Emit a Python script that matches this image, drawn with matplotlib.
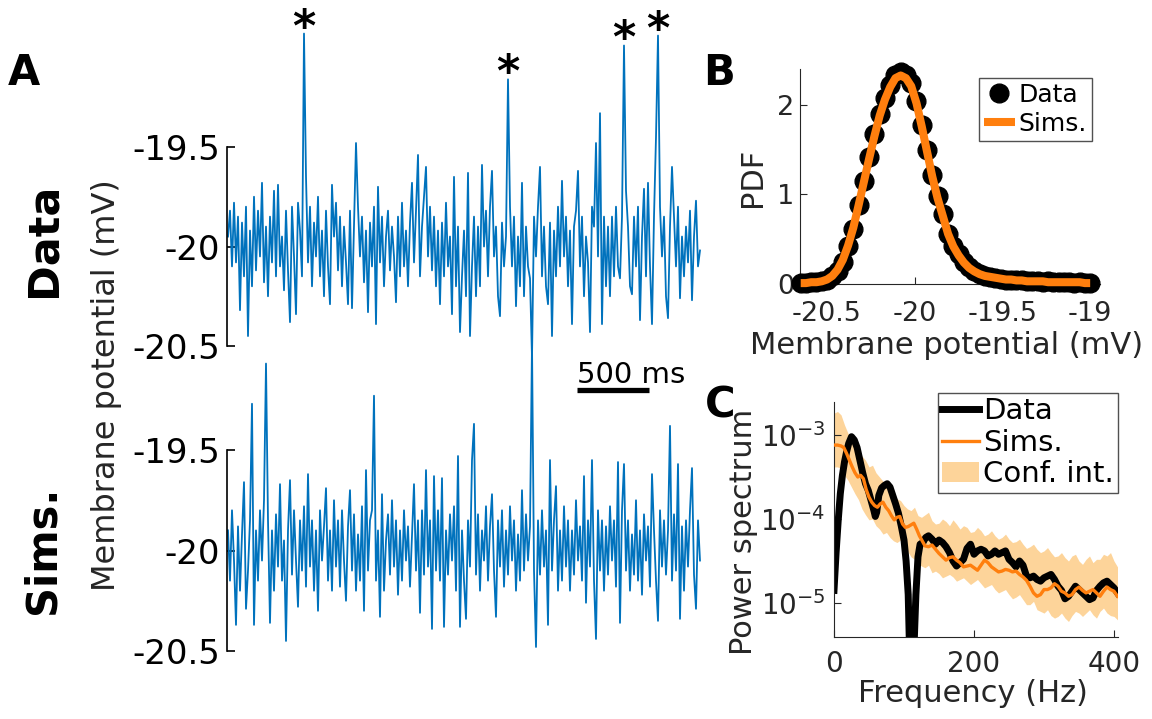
import numpy as np
import matplotlib
matplotlib.use("Agg")
import matplotlib.pyplot as plt

# ---------------- data ----------------
# Panel A: membrane potential traces (offset from -20 mV, in 0.01 mV)
data_trace_offsets = [
    5, 18, -10, 22, -8, 15, -32, 12, -15, 20,
    -45, 8, -20, 25, -12, 18, -5, 32, -18, 10,
    -25, 15, -8, 28, -15, 31, -10, 5, -22, 18,
    -12, -38, 20, -5, -34, 22, 8, -15, 107, 35,
    -8, 20, -20, 12, -5, 25, -15, 8, -25, 18,
    -10, -29, 31, 5, 22, -12, 15, -20, 10, -8,
    -29, 18, -31, 10, 52, 20, -5, 15, -18, 8,
    -33, 12, -10, 20, -39, 30, -8, 15, -20, 5,
    18, -12, 10, -5, -28, 15, -15, 22, -10, 8,
    -20, 12, 32, -8, 18, 46, -15, 10, 25, 40,
    -5, 20, -12, 15, -20, 8, -29, 12, -15, 22,
    -10, 5, -34, 35, -20, 10, -43, -15, 8, -25,
    37, -45, -10, 15, -25, 10, -20, 41, 0, 18,
    -15, 20, 38, -5, 10, -25, -35, 12, -10, 5,
    84, 20, -10, 15, -30, 5, -20, 32, -25, 10,
    -10, -16, -56, 15, -5, 20, 40, -15, 10, -20,
    -29, 12, -45, 8, -15, 20, -10, 33, -5, 15,
    -20, 8, -39, 10, 18, 38, -10, 15, -25, 5,
    -8, -43, 20, 10, 52, -5, 67, -39, 15, -20,
    10, -25, 15, -15, 20, -10, -16, 15, 101, 28,
    10, -20, -24, 15, -10, 20, -37, 5, 29, -15,
    32, -10, -39, 15, 55, 106, 20, -5, 15, -25,
    -36, 10, 40, 15, -10, 20, -26, 5, -15, 10,
    -8, 18, -27, 5, 23, -10, -2,
]
sims_trace_offsets = [
    10, -15, 20, -5, -37, 12, -20, 8, 34, -29,
    -10, 15, 73, -37, 10, -15, 20, -5, 25, 93,
    15, -36, 10, -20, 18, -8, 33, -15, 5, -45,
    10, 35, -12, 20, -5, -28, 15, -10, 22, -18,
    38, -8, 15, -20, 10, -30, 20, -5, 12, 31,
    -15, 10, -20, 25, -8, 15, -18, 20, -5, -25,
    12, 30, -10, 18, -20, 8, -15, 22, -30, 40,
    -10, 15, 20, 77, -15, 10, -33, 28, -20, 5,
    18, -12, 25, -8, 15, -22, 10, -15, 20, -5,
    12, -18, 8, 33, -10, 15, -31, 20, -12, 40,
    -8, 15, -39, 37, -10, 20, -15, 36, -38, 10,
    -12, 18, -5, 22, -20, 47, -38, 10, -15, -34,
    15, -8, 45, 63, -12, 18, -20, 10, -5, 22,
    -15, 12, 28, -10, -33, 15, -8, 20, -18, 10,
    -12, 22, -5, 15, -20, 8, -15, 30, -10, 18,
    -5, 12, 103, -10, -48, 15, -12, 20, -8, 10,
    -37, 45, -10, 15, 32, -20, 10, -15, 22, -8,
    15, -20, 10, -12, 25, -5, 12, -15, 37, -26,
    15, -8, 45, -15, -44, 20, -10, 15, -20, 12,
    -12, 22, -5, 15, -18, 44, -36, 20, 43, -10,
    15, -20, 8, -12, 25, -15, 10, -22, 18, -5,
    12, -18, 38, 10, -15, -35, 20, -8, 15, -12,
    10, 62, -15, 18, -10, 43, -34, 12, -20, 15,
    -8, 20, 41, -12, -29, 15, -5,
]
sample_ms = 13.89
marked_spikes = [38, 140, 198, 215]
scale_bar_ms = 500

# Panel B: membrane potential PDF
pdf_v = [-20.65, -20.62, -20.59, -20.56, -20.53, -20.50, -20.47, -20.44, -20.41, -20.38,
         -20.35, -20.32, -20.29, -20.26, -20.23, -20.20, -20.17, -20.14, -20.11, -20.08,
         -20.05, -20.02, -19.99, -19.96, -19.93, -19.90, -19.87, -19.84, -19.81, -19.78,
         -19.75, -19.72, -19.69, -19.66, -19.63, -19.60, -19.57, -19.54, -19.51, -19.48,
         -19.45, -19.42, -19.39, -19.36, -19.33, -19.30, -19.27, -19.24, -19.21, -19.18,
         -19.15, -19.12, -19.09, -19.06, -19.03, -19.00]
pdf_data = [0.01, 0.01, 0.02, 0.02, 0.03, 0.05, 0.09, 0.15, 0.25, 0.42,
            0.62, 0.88, 1.15, 1.42, 1.68, 1.90, 2.08, 2.22, 2.33, 2.37,
            2.33, 2.25, 2.04, 1.78, 1.50, 1.22, 0.98, 0.78, 0.56, 0.42,
            0.33, 0.25, 0.19, 0.14, 0.11, 0.09, 0.08, 0.07, 0.06, 0.05,
            0.05, 0.04, 0.04, 0.03, 0.03, 0.03, 0.02, 0.03, 0.02, 0.02,
            0.02, 0.02, 0.01, 0.02, 0.01, 0.01]
pdf_sims = [0.01, 0.01, 0.02, 0.02, 0.03, 0.05, 0.09, 0.16, 0.27, 0.43,
            0.63, 0.88, 1.14, 1.40, 1.65, 1.88, 2.06, 2.20, 2.30, 2.33,
            2.30, 2.21, 2.02, 1.76, 1.48, 1.20, 0.96, 0.76, 0.56, 0.42,
            0.32, 0.24, 0.18, 0.14, 0.11, 0.09, 0.08, 0.07, 0.06, 0.05,
            0.05, 0.04, 0.04, 0.03, 0.03, 0.03, 0.03, 0.02, 0.02, 0.02,
            0.02, 0.02, 0.02, 0.02, 0.01, 0.01]

# Panel C: power spectra (log10 of power)
spec_f_data = [0, 3, 6, 9, 12, 15, 18, 21, 25, 29, 33, 37, 41, 45, 49, 53, 57, 59, 61, 64,
               68, 72, 76, 80, 84, 88, 92, 96, 100, 103, 106, 108, 111, 114, 117, 120, 123,
               127, 131, 135, 140, 145, 150, 155, 160, 165, 170, 175, 180, 185, 190, 195,
               200, 205, 210, 215, 220, 225, 230, 235, 240, 245, 250, 255, 260, 265, 270,
               275, 280, 285, 290, 295, 300, 305, 310, 315, 320, 325, 330, 335, 340, 345,
               350, 355, 360, 365, 370, 375, 380, 385, 390, 395, 400, 405]
spec_data_log = [-4.85, -4.40, -4.02, -3.70, -3.48, -3.32, -3.20, -3.10, -3.02, -3.06,
                 -3.15, -3.30, -3.45, -3.58, -3.66, -3.78, -3.90, -3.97, -3.92, -3.72,
                 -3.63, -3.60, -3.58, -3.62, -3.72, -3.82, -3.93, -4.08, -4.25, -4.50,
                 -4.90, -5.60, -5.60, -5.60, -4.90, -4.45, -4.30, -4.28, -4.22, -4.20,
                 -4.24, -4.30, -4.25, -4.28, -4.33, -4.40, -4.50, -4.56, -4.52, -4.48,
                 -4.35, -4.30, -4.42, -4.38, -4.36, -4.38, -4.44, -4.42, -4.38, -4.42,
                 -4.40, -4.38, -4.48, -4.52, -4.57, -4.50, -4.55, -4.68, -4.70, -4.68,
                 -4.72, -4.74, -4.70, -4.68, -4.66, -4.72, -4.80, -4.85, -4.95, -4.92,
                 -4.86, -4.80, -4.84, -4.88, -4.92, -4.96, -4.94, -4.85, -4.80, -4.76,
                 -4.74, -4.78, -4.82, -4.88]
spec_f_sims = [0, 5, 10, 14, 18, 22, 26, 30, 34, 38, 42, 46, 50, 54, 58, 62, 66, 70, 74, 78,
               82, 86, 90, 94, 98, 102, 106, 110, 114, 118, 122, 126, 130, 135, 140, 145, 150,
               155, 160, 165, 170, 175, 180, 185, 190, 195, 200, 205, 210, 215, 220, 225, 230,
               235, 240, 245, 250, 255, 260, 265, 270, 275, 280, 285, 290, 295, 300, 305, 310,
               315, 320, 325, 330, 335, 340, 345, 350, 355, 360, 365, 370, 375, 380, 385, 390,
               395, 400, 405]
spec_sims_log = [-3.12, -3.12, -3.13, -3.15, -3.22, -3.30, -3.38, -3.45, -3.50, -3.48,
                 -3.52, -3.65, -3.74, -3.80, -3.84, -3.86, -3.82, -3.80, -3.86, -3.90,
                 -3.96, -4.01, -3.98, -3.97, -4.06, -4.10, -4.09, -4.07, -4.05, -4.12,
                 -4.20, -4.26, -4.32, -4.33, -4.31, -4.36, -4.41, -4.45, -4.49, -4.46,
                 -4.45, -4.49, -4.52, -4.57, -4.56, -4.55, -4.58, -4.61, -4.55, -4.49,
                 -4.52, -4.57, -4.60, -4.63, -4.62, -4.60, -4.61, -4.63, -4.62, -4.66,
                 -4.69, -4.73, -4.80, -4.88, -4.92, -4.90, -4.84, -4.84, -4.82, -4.77,
                 -4.80, -4.86, -4.88, -4.92, -4.90, -4.84, -4.81, -4.85, -4.88, -4.86,
                 -4.84, -4.88, -4.92, -4.86, -4.81, -4.84, -4.86, -4.92]
ci_f = [0, 5, 10, 15, 20, 25, 30, 35, 40, 45, 50, 55, 60, 65, 70, 75, 80, 85, 90, 95, 100,
        105, 110, 115, 120, 125, 130, 135, 140, 145, 150, 155, 160, 165, 170, 175, 180, 185,
        190, 195, 200, 205, 210, 215, 220, 225, 230, 235, 240, 245, 250, 255, 260, 265, 270,
        275, 280, 285, 290, 295, 300, 305, 310, 315, 320, 325, 330, 335, 340, 345, 350, 355,
        360, 365, 370, 375, 380, 385, 390, 395, 400, 405]
ci_high_log = [-2.74, -2.72, -2.76, -2.88, -2.98, -3.02, -3.10, -3.20, -3.25, -3.30, -3.38,
               -3.36, -3.45, -3.50, -3.55, -3.58, -3.66, -3.70, -3.76, -3.78, -3.84, -3.88,
               -3.90, -3.86, -3.96, -3.98, -3.95, -3.92, -4.02, -4.06, -4.05, -4.00, -4.03,
               -4.08, -4.01, -4.06, -4.12, -4.08, -4.10, -4.16, -4.15, -4.10, -4.14, -4.20,
               -4.18, -4.14, -4.20, -4.24, -4.22, -4.18, -4.24, -4.28, -4.27, -4.24, -4.30,
               -4.35, -4.33, -4.30, -4.36, -4.40, -4.38, -4.34, -4.40, -4.45, -4.44, -4.40,
               -4.46, -4.50, -4.44, -4.42, -4.50, -4.54, -4.48, -4.44, -4.52, -4.48, -4.48,
               -4.42, -4.44, -4.40, -4.50, -4.57]
ci_low_log = [-3.38, -3.38, -3.40, -3.48, -3.54, -3.62, -3.70, -3.77, -3.88, -3.95, -4.01,
              -4.00, -4.08, -4.12, -4.18, -4.16, -4.22, -4.26, -4.28, -4.25, -4.33, -4.38,
              -4.45, -4.48, -4.53, -4.56, -4.58, -4.55, -4.64, -4.62, -4.65, -4.70, -4.68,
              -4.66, -4.69, -4.74, -4.72, -4.70, -4.74, -4.78, -4.75, -4.72, -4.77, -4.82,
              -4.80, -4.78, -4.84, -4.88, -4.86, -4.84, -4.90, -4.95, -4.93, -4.90, -4.96,
              -5.02, -5.02, -4.98, -5.08, -5.10, -5.12, -5.08, -5.15, -5.18, -5.16, -5.12,
              -5.18, -5.22, -5.15, -5.10, -5.12, -5.16, -5.12, -5.08, -5.14, -5.18, -5.10,
              -5.06, -5.12, -5.15, -5.16, -5.20]

# ---------------- style ----------------
BLUE = "#0072BD"
ORANGE = "#FF7F0E"
BAND = "#FDD49A"
AX = "#262626"
W, H = 1152, 719
plt.rcParams["font.family"] = ["DejaVu Sans"]

fig = plt.figure(figsize=(W / 100, H / 100), dpi=100)


def box(left, top, right, bottom):
    return [left / W, 1 - bottom / H, (right - left) / W, (bottom - top) / H]


def ftext(x, y, s, **kw):
    fig.text(x / W, 1 - y / H, s, **kw)


ms_per_px = sample_ms / 2.0

# ---------------- Panel A ----------------
data_trace = -20 + np.array(data_trace_offsets) / 100.0
sims_trace = -20 + np.array(sims_trace_offsets) / 100.0
t = np.arange(len(data_trace)) * sample_ms


def trace_axes(top_px, bottom_px, y_hi_px, y_lo_px, trace):
    ax = fig.add_axes(box(227, top_px, 702, bottom_px))
    ax.patch.set_alpha(0)
    ppm = (y_lo_px - y_hi_px) / 1.0  # pixels per mV
    ax.plot(t, trace, color=BLUE, lw=1.3, clip_on=False)
    ax.set_xlim(-ms_per_px, (702 - 228) * ms_per_px)
    ax.set_ylim(-20.5 - (bottom_px - y_lo_px) / ppm, -19.5 + (y_hi_px - top_px) / ppm)
    for s in ["top", "right", "bottom"]:
        ax.spines[s].set_visible(False)
    ax.spines["left"].set_bounds(-20.5, -19.5)
    ax.spines["left"].set_color("k")
    ax.spines["left"].set_linewidth(1.2)
    ax.set_xticks([])
    ax.set_yticks([-20.5, -20, -19.5])
    ax.set_yticklabels(["-20.5", "-20", "-19.5"])
    ax.tick_params(axis="y", direction="in", length=6, width=1.2, pad=5,
                   labelsize=24.5, colors="k")
    return ax


axA1 = trace_axes(0, 400, 147, 346, data_trace)
axA2 = trace_axes(330, 719, 450, 651, sims_trace)

for i in marked_spikes:
    axA1.annotate("*", xy=(t[i], data_trace[i]), xytext=(0, -5),
                  textcoords="offset points", ha="center", va="baseline",
                  fontsize=32, fontweight="bold", color="k", annotation_clip=False)

# scale bar
ppm1 = 346 - 147
bar_y = -20.5 - (390 - 346) / ppm1
bar_x0 = (577 - 228) * ms_per_px
axA1.plot([bar_x0, bar_x0 + scale_bar_ms], [bar_y, bar_y], color="k", lw=3.8,
          solid_capstyle="butt", clip_on=False)
axA1.text(bar_x0, -20.5 - (383 - 346) / ppm1, "500 ms", ha="left", va="baseline",
          fontsize=21, color="k", clip_on=False)

ftext(8, 73, "A", fontsize=30, fontweight="bold", ha="left", va="center")
ftext(43, 240, "Data", fontsize=31, fontweight="bold", rotation=90, ha="center", va="center")
ftext(43, 550, "Sims.", fontsize=30, fontweight="bold", rotation=90, ha="center", va="center")
ftext(107, 385, "Membrane potential (mV)", fontsize=23, rotation=90, ha="center",
      va="center", color=AX)

# ---------------- Panel B ----------------
axB = fig.add_axes(box(800, 69.2, 1100, 284))
axB.plot(pdf_v, pdf_data, "o", color="k", ms=13.5, clip_on=False, label="Data", zorder=3)
axB.plot(pdf_v, pdf_sims, "-", color=ORANGE, lw=5.8, clip_on=False, label="Sims.",
         solid_capstyle="butt", zorder=4)
axB.set_xlim(-20.654, -18.944)
axB.set_ylim(0, 2.4)
for s in ["top", "right"]:
    axB.spines[s].set_visible(False)
for s in ["left", "bottom"]:
    axB.spines[s].set_color(AX)
axB.set_xticks([-20.5, -20, -19.5, -19])
axB.set_xticklabels(["-20.5", "-20", "-19.5", "-19"])
axB.set_yticks([0, 1, 2])
axB.tick_params(direction="in", length=5, labelsize=19.5, colors=AX)
axB.tick_params(axis="x", pad=12)
axB.tick_params(axis="y", pad=4)
axB.set_xlabel("Membrane potential (mV)", fontsize=22, color=AX)
axB.xaxis.set_label_coords((947 - 800) / 300, (284 - 346) / 214.8)
axB.xaxis.label.set_va("center")
axB.set_ylabel("PDF", fontsize=22, color=AX)
axB.yaxis.set_label_coords((753 - 800) / 300, (284 - 177) / 214.8)
axB.yaxis.label.set_va("center")
legB = axB.legend(loc="upper right", bbox_to_anchor=(1092 / W, 1 - 78 / H),
                  bbox_transform=fig.transFigure, fontsize=18, frameon=True,
                  fancybox=False, edgecolor=AX, borderpad=0.2, handlelength=1.25,
                  handletextpad=0.15, labelspacing=0.2, borderaxespad=0, markerscale=1.0)
legB.get_frame().set_linewidth(1.0)
ftext(703, 73, "B", fontsize=30, fontweight="bold", ha="left", va="center")

# ---------------- Panel C ----------------
axC = fig.add_axes(box(834, 402, 1118, 637))
axC.fill_between(ci_f, 10 ** np.array(ci_low_log), 10 ** np.array(ci_high_log),
                 color=BAND, lw=0, label="Conf. int.", zorder=1)
axC.plot(spec_f_data, 10 ** np.array(spec_data_log), color="k", lw=5, label="Data", zorder=2)
axC.plot(spec_f_sims, 10 ** np.array(spec_sims_log), color=ORANGE, lw=2.4, label="Sims.",
         zorder=3)
axC.set_yscale("log")
axC.set_xlim(0, (1118 - 834) / 0.7)
axC.set_ylim(10 ** (-5 - 34 / 84), 10 ** (-3 + 33 / 84))
for s in ["top", "right"]:
    axC.spines[s].set_visible(False)
for s in ["left", "bottom"]:
    axC.spines[s].set_color(AX)
axC.set_xticks([0, 200, 400])
axC.set_yticks([1e-5, 1e-4, 1e-3])
axC.set_yticklabels([r"$10^{-5}$", r"$10^{-4}$", r"$10^{-3}$"])
axC.minorticks_off()
axC.tick_params(direction="in", length=5, colors=AX)
axC.tick_params(axis="x", labelsize=20, pad=9)
axC.tick_params(axis="y", labelsize=20, pad=6)
axC.set_xlabel("Frequency (Hz)", fontsize=22, color=AX)
axC.xaxis.set_label_coords((973 - 834) / 284, (637 - 693) / 235)
axC.xaxis.label.set_va("center")
axC.set_ylabel("Power spectrum", fontsize=22, color=AX)
axC.yaxis.set_label_coords((744 - 834) / 284, (637 - 532) / 235)
axC.yaxis.label.set_va("center")
h, l = axC.get_legend_handles_labels()
order = [l.index("Data"), l.index("Sims."), l.index("Conf. int.")]
legC = axC.legend([h[k] for k in order], [l[k] for k in order], loc="upper right",
                  bbox_to_anchor=(1118 / W, 1 - 393 / H), bbox_transform=fig.transFigure,
                  fontsize=21, frameon=True, fancybox=False, edgecolor=AX, borderpad=0.15,
                  handlelength=1.25, handletextpad=0.15, labelspacing=0.12, borderaxespad=0)
legC.get_frame().set_linewidth(1.0)
ftext(705, 405, "C", fontsize=30, fontweight="bold", ha="left", va="center")

fig.savefig("out.png", dpi=100)
